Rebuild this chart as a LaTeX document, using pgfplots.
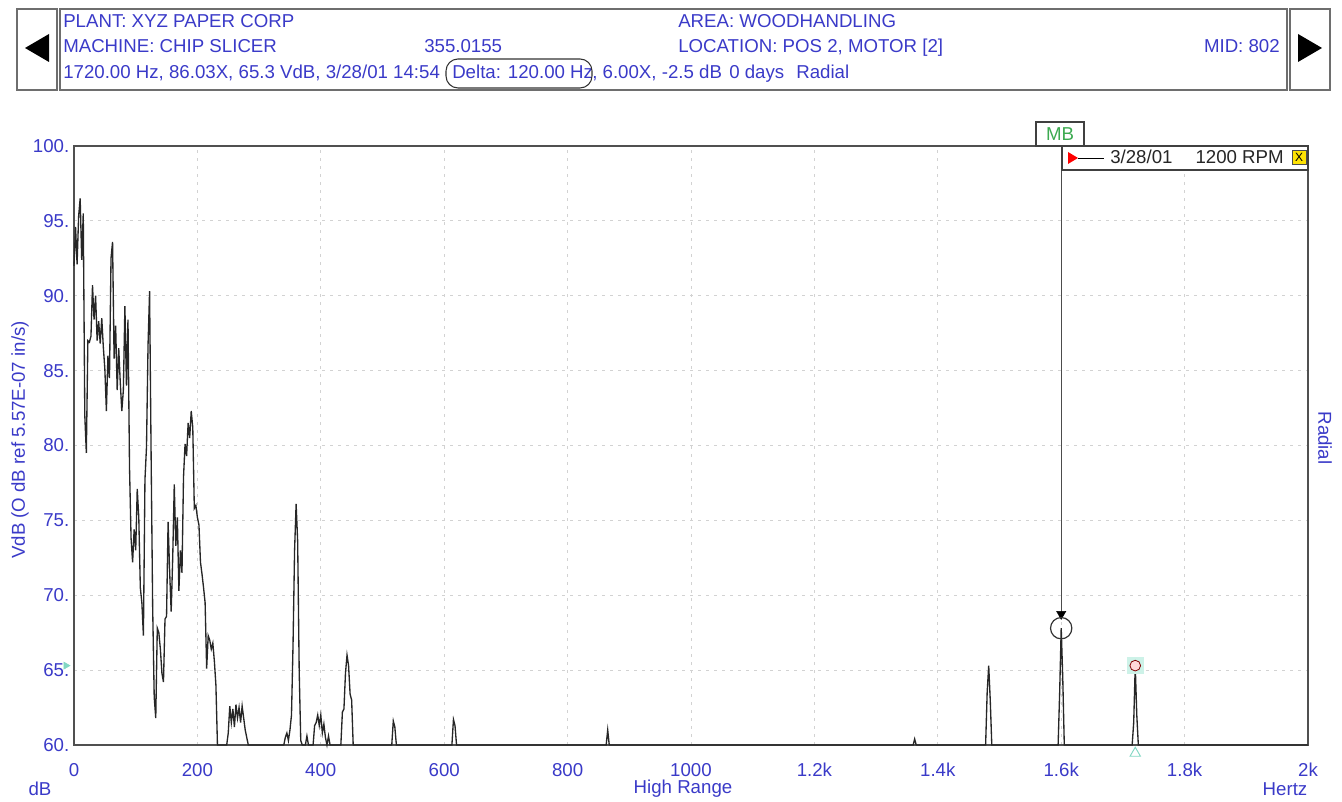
\documentclass[border=0pt]{standalone}
\usepackage{fontspec}
\setmainfont{Liberation Sans}
\usepackage{pgfplots}
\pgfplotsset{compat=1.18}
\definecolor{txtblue}{RGB}{58,58,200}
\definecolor{mbgreen}{RGB}{60,170,80}
\definecolor{gridgray}{RGB}{210,210,210}
\definecolor{axgray}{RGB}{80,80,80}
\definecolor{boxgray}{RGB}{110,110,110}
\definecolor{halo}{RGB}{205,242,232}
\definecolor{tealmark}{RGB}{130,215,195}
\newcommand{\fs}{\fontsize{14pt}{16pt}\selectfont}
\begin{document}
\begin{tikzpicture}
\useasboundingbox (0,0) rectangle (1006.5pt,601.5pt);
\begin{axis}[at={(55.5pt,42.75pt)}, anchor=south west, scale only axis,
  width=925.5pt, height=449.25pt,
  xmin=0, xmax=2000, ymin=60, ymax=100, clip=false,
  axis line style={axgray, line width=1.1pt},
  grid=major, grid style={gridgray, dash pattern=on 2.5pt off 3.5pt, line width=0.6pt},
  major tick length=0pt,
  xtick={0,200,...,2000},
  xticklabels={0,200,400,600,800,1000,1.2k,1.4k,1.6k,1.8k,2k},
  ytick={60,65,...,100},
  yticklabels={60.,65.,70.,75.,80.,85.,90.,95.,100.},
  ticklabel style={font=\fs, text=txtblue},
  /pgf/number format/assume math mode=true,
  xticklabel style={yshift=-10pt},
  scaled ticks=false]
\addplot[black!85, line width=1.0pt] coordinates {
(0,92.0)(2.5,94.6)(5,92.1)(7.5,95.3)(10,96.5)(12.5,92.4)(15,95.5)(17.5,82.0)(20,79.5)(22.5,87.0)
(25,86.9)(27.5,87.3)(30,90.7)(32.5,88.4)(35,90.0)(37.5,87.0)(40,88.3)(42.5,86.8)(45,88.5)(47.5,86.6)
(50,85.1)(52.5,82.3)(55,86.0)(57.5,84.5)(60,92.5)(62.5,93.6)(65,85.8)(67.5,88.0)(70,83.7)(72.5,86.5)
(75,84.2)(77.5,82.3)(80,83.7)(82.5,89.3)(85,84.0)(87.5,88.4)(90,78.5)(92.5,73.8)(95,72.2)(97.5,74.4)
(100,73.0)(102.5,77.1)(105,75.2)(107.5,70.5)(110,69.5)(112.5,67.3)(115,77.7)(117.5,79.9)(120,86.7)(122.5,90.3)
(125,79.3)(127.5,69.2)(130,63.2)(132.5,61.8)(135,67.8)(137.5,67.5)(140,66.4)(142.5,64.8)(145,64.2)(147.5,68.4)
(150,68.6)(152.5,74.9)(155,71.6)(157.5,68.9)(160,72.5)(162.5,77.4)(165,73.3)(167.5,75.2)(170,70.3)(172.5,73.0)
(175,71.5)(177.5,77.9)(180,80.1)(182.5,79.3)(185,81.5)(187.5,80.5)(190,82.3)(192.5,81.2)(195,75.8)(197.5,76.0)
(200,75.2)(202.5,74.7)(205,72.2)(207.5,71.4)(210,70.5)(212.5,69.5)(215,65.1)(217.5,67.3)(220,67.0)(222.5,66.4)
(225,66.8)(227.5,65.6)(230,64.0)(232.5,60)(247.5,60)(250,60.8)(252.5,62.6)(255,61.5)(257.5,62.4)(260,61.2)
(262.5,62.7)(265,61.8)(267.5,62.5)(270,61.5)(272.5,62.6)(275,61.8)(277.5,61.0)(280,60.5)(282.5,60)
(340,60)(342.5,60.5)(345,60.8)(347.5,60.3)(350,61.0)(352.5,62)(355,66.7)(357.5,73.0)(360,76.1)(362.5,73.6)
(365,64.9)(367.5,60.3)(370,60)(375,60)(377.5,60.6)(380,60)(387.5,60)(390,61.3)(392.5,61.5)(395,62.0)
(397.5,61.3)(400,62.0)(402.5,60.8)(405,61.4)(407.5,60.5)(410,60)(412.5,60.6)(415,60)(432.5,60)(435,62.2)
(437.5,62.4)(440,64.8)(442.5,66.0)(445,65.3)(447.5,63.4)(450,63.0)(452.5,60)(515,60)(517.5,61.6)(520,61.2)
(522.5,60)(612.5,60)(615,61.7)(617.5,61.3)(620,60)(862.5,60)(865,61.0)(867.5,60)(1360,60)(1362.5,60.4)
(1365,60)(1477.5,60)(1480,63.5)(1482.5,65.3)(1485,63.0)(1487.5,60)(1595,60)(1597.5,63.5)(1600,67.8)(1602.5,64.5)
(1605,60)(1715,60)(1717.5,61.5)(1720,65.3)(1722.5,62.0)(1725,60)(2000,60)
};
% cursor line at 1600 Hz
\addplot[black!70, line width=0.6pt] coordinates {(1600,100) (1600,68.9)};
\addplot[only marks, mark=triangle*, mark size=4pt, mark options={rotate=180, fill=black, draw=black}] coordinates {(1600,68.75)};
\addplot[only marks, mark=o, mark size=8pt, mark options={draw=black!80, line width=0.9pt}] coordinates {(1600,67.8)};
% 1720 Hz marker
\addplot[halo, only marks, mark=square*, mark size=6pt, mark options={fill=halo, draw=halo}] coordinates {(1720,65.3)};
\addplot[only marks, mark=*, mark size=4pt, mark options={fill=red!15, draw=red!50!black, line width=0.6pt}] coordinates {(1720,65.3)};
\addplot[only marks, mark=triangle, mark size=4.5pt, mark options={draw=tealmark, line width=0.7pt}] coordinates {(1720,59.45)};
\addplot[only marks, mark=triangle*, mark size=3pt, mark options={rotate=-90, fill=tealmark, draw=tealmark}] coordinates {(-13,65.3)};
\end{axis}
\begin{scope}[x=0.75pt, y=-0.75pt, shift={(0pt,601.5pt)}, every node/.style={inner sep=0pt, font=\fs}]
% header boxes
\draw[boxgray, line width=1.6pt] (17,9) rectangle (57,90);
\draw[boxgray, line width=1.6pt] (60,9) rectangle (1287,90);
\draw[boxgray, line width=1.6pt] (1290,9) rectangle (1330,90);
\fill[black] (25,48) -- (49,34) -- (49,62) -- cycle;
\fill[black] (1322,48) -- (1298,34) -- (1298,62) -- cycle;
\node[anchor=base west, text=txtblue] at (63,28) {PLANT: XYZ PAPER CORP};
\node[anchor=base west, text=txtblue] at (678,28) {AREA: WOODHANDLING};
\node[anchor=base west, text=txtblue] at (63,53) {MACHINE: CHIP SLICER};
\node[anchor=base west, text=txtblue] at (424,53) {355.0155};
\node[anchor=base west, text=txtblue] at (678,53) {LOCATION: POS 2, MOTOR [2]};
\node[anchor=base east, text=txtblue] at (1280,53) {MID: 802};
\node[anchor=base west, text=txtblue] at (63,79) {1720.00 Hz, 86.03X, 65.3 VdB, 3/28/01 14:54};
\node[anchor=base west, text=txtblue] at (452,79) {Delta: 120.00 Hz};
\node[anchor=base west, text=txtblue] at (592,79) {, 6.00X, -2.5 dB};
\node[anchor=base west, text=txtblue] at (729,79) {0 days};
\node[anchor=base west, text=txtblue] at (796,79) {Radial};
\draw[black!80, line width=0.8pt, rounded corners=9pt] (446,59) rectangle (592,88);
% MB box and legend box
\draw[black!75, line width=0.9pt, fill=white] (1036,122) rectangle (1084,146);
\node[text=mbgreen] at (1060,134) {MB};
\draw[black!75, line width=0.9pt, fill=white] (1062,146) rectangle (1308,170);
\fill[red] (1068,152) -- (1078,158) -- (1068,164) -- cycle;
\draw[black, line width=0.7pt] (1078,158) -- (1104,158);
\node[anchor=base west, text=black!85] at (1110,164) {3/28/01};
\node[anchor=base east, text=black!85] at (1284,164) {1200 RPM};
\draw[black!70, fill=yellow!85!orange, line width=0.5pt] (1292,150) rectangle (1306,164);
\node[font=\fontsize{9pt}{10pt}\selectfont, text=black] at (1299,157) {X};
% axis labels
\node[rotate=90, text=txtblue] at (20,440) {VdB (O dB ref 5.57E-07 in/s)};
\node[rotate=-90, text=txtblue] at (1325,438) {Radial};
\node[text=txtblue] at (40,789) {dB};
\node[text=txtblue] at (683,789) {High Range};
\node[text=txtblue] at (1285,789) {Hertz};
\end{scope}
\end{tikzpicture}
\end{document}
